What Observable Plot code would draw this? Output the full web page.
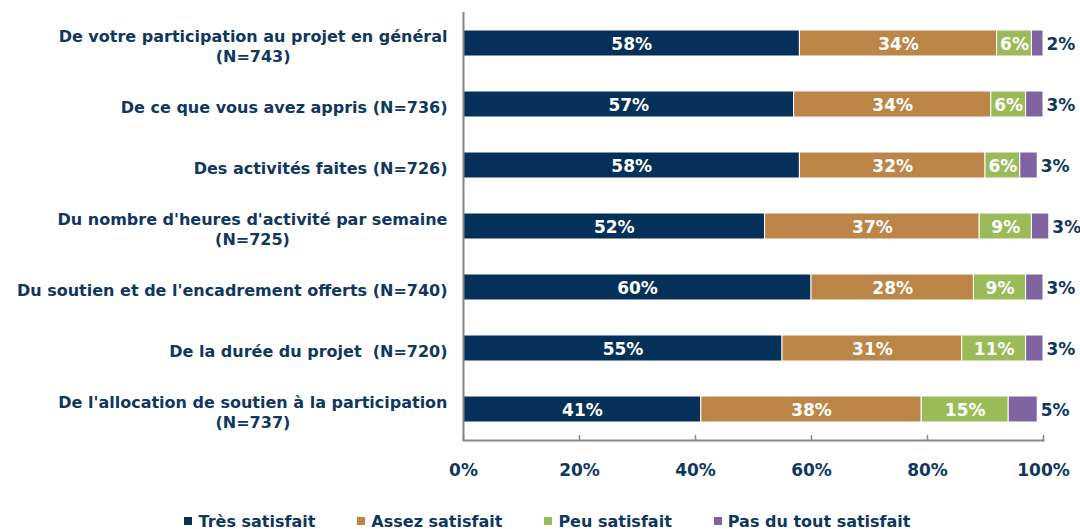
<!DOCTYPE html>
<html><head><meta charset="utf-8">
<script src="https://cdn.jsdelivr.net/npm/d3@7"></script>
<script src="https://cdn.jsdelivr.net/npm/@observablehq/plot@0.6"></script>
<style>
body{margin:0;background:#fff;font-family:"DejaVu Sans",sans-serif;}
#legend{display:flex;justify-content:center;gap:42px;padding-left:15px;padding-top:4px;height:24px;align-items:center;font-weight:bold;font-size:16px;color:#10375e;}
#legend .it{display:flex;align-items:center;}
#legend .sw{display:inline-block;width:8px;height:8px;margin-right:6px;}
</style></head><body><div id="chart"></div><div id="legend"></div>
<script>
const items = ["participation","appris","activites","heures","soutien","duree","allocation"];
const itemLabels = [
  "De votre participation au projet en général\n(N=743)",
  "De ce que vous avez appris (N=736)",
  "Des activités faites (N=726)",
  "Du nombre d'heures d'activité par semaine\n(N=725)",
  "Du soutien et de l'encadrement offerts (N=740)",
  "De la durée du projet  (N=720)",
  "De l'allocation de soutien à la participation\n(N=737)"
];
const categories = ["Très satisfait","Assez satisfait","Peu satisfait","Pas du tout satisfait"];
const colors = ["#05305a","#bc8648","#9bbb59","#8064a2"];
const tres  = [58,57,58,52,60,55,41];
const assez = [34,34,32,37,28,31,38];
const peu   = [6,6,6,9,9,11,15];
const pas   = [2,3,3,3,3,3,5];
const xTicks = [0,20,40,60,80,100];

const series = [tres, assez, peu, pas];
const data = [];
items.forEach((it,i)=>categories.forEach((c,j)=>data.push({item:it, cat:c, value:series[j][i]})));
const last = categories[3];
const textColor = "#10375e";
const axisGrey = "#868686";

const plot = Plot.plot({
  width:1080, height:505, marginLeft:463, marginRight:37, marginTop:12, marginBottom:65,
  style:{fontFamily:'"DejaVu Sans", sans-serif', fontWeight:"bold", color:textColor, background:"#fff", overflow:"visible"},
  x:{domain:[0,100]},
  y:{domain:items, paddingInner:0.58, paddingOuter:0.29},
  color:{domain:categories, range:colors},
  marks:[
    Plot.barX(data, Plot.stackX({x:"value", y:"item", fill:"cat", order:categories, stroke:"#fff", strokeWidth:1})),
    Plot.text(data, Plot.stackX({x:"value", y:"item", z:"cat", order:categories, text:d=>d.cat===last?null:d.value+"%", fill:"#fff", fontSize:17, fontWeight:"bold", dy:1})),
    Plot.text(data, Plot.stackX2({x:"value", y:"item", z:"cat", order:categories, text:d=>d.cat===last?d.value+"%":null, fill:textColor, textAnchor:"start", dx:3, dy:1, fontSize:17, fontWeight:"bold"})),
    Plot.axisY({tickSize:0, tickPadding:16, fontSize:16, lineHeight:1.28, dy:2, label:null, tickFormat:d=>itemLabels[items.indexOf(d)]}),
    Plot.axisX({ticks:xTicks, tickSize:-5, tickPadding:28, fontSize:17, tickFormat:d=>d+"%", label:null}),
    Plot.ruleX([0], {stroke:axisGrey, strokeWidth:2}),
    Plot.frame({anchor:"bottom", stroke:axisGrey, strokeWidth:2})
  ]
});
document.getElementById("chart").append(plot);

// grey tick marks
plot.querySelectorAll('g[aria-label="x-axis tick"]').forEach(g=>{g.setAttribute("stroke",axisGrey); g.setAttribute("stroke-width","1.5");});
// center multi-line category labels
const yLab = plot.querySelector('g[aria-label="y-axis tick label"]');
if (yLab) yLab.querySelectorAll("text").forEach(t=>{
  t.style.whiteSpace = "pre";
  const w = t.getBBox().width;
  t.setAttribute("text-anchor","middle");
  t.setAttribute("transform",(t.getAttribute("transform")||"")+` translate(${-w/2},0)`);
});

// legend
const lg = document.getElementById("legend");
categories.forEach((c,i)=>{
  const it = document.createElement("span"); it.className="it";
  const sw = document.createElement("span"); sw.className="sw"; sw.style.background=colors[i];
  it.append(sw, document.createTextNode(c));
  lg.append(it);
});
</script>
</body></html>
